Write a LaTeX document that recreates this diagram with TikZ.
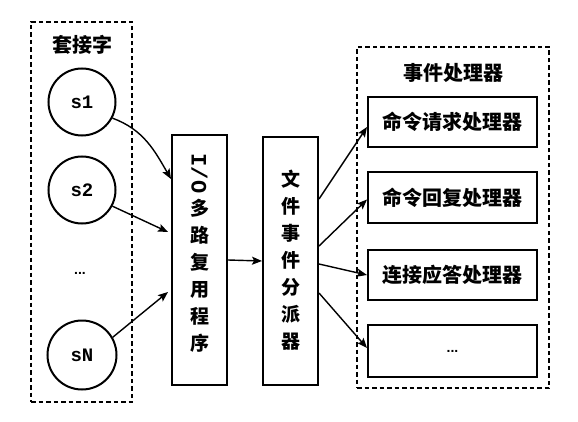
\documentclass[tikz,border=0pt]{standalone}
\usepackage{fontspec}
\usepackage{graphicx}
\newfontfamily\cjk{Noto Sans CJK SC}
\newfontfamily\mono{Liberation Mono}
\newfontfamily\dotsf{Liberation Sans}
\usetikzlibrary{arrows.meta,calc}
\begin{document}
\begin{tikzpicture}[x=1pt,y=-1pt,
  dbox/.style={draw,line width=2.1pt,dash pattern=on 4.5pt off 3pt,rectangle,inner sep=0pt},
  sock/.style={draw,circle,line width=2pt,minimum size=67pt,inner sep=0pt,font=\mono\bfseries\fontsize{19}{19}\selectfont},
  sbox/.style={draw,line width=2pt,rectangle,inner sep=0pt},
  lbl/.style={font=\cjk\bfseries\fontsize{20}{20}\selectfont},
  vlbl/.style={font=\cjk\bfseries\fontsize{19}{27}\selectfont,align=center},
  dotl/.style={font=\dotsf\bfseries\fontsize{14}{14}\selectfont},
  arr/.style={-{Stealth[length=10pt,width=8pt,inset=2pt]},line width=1.4pt}]
\useasboundingbox (0,0) rectangle (578,422);
% left group
\node[dbox,minimum width=101pt,minimum height=380pt] (left) at (81.5,212) {};
\node[lbl] (ltitle) at (82,45) {套接字};
\node[sock] (s1) at (82,102) {s1};
\node[sock] (s2) at (82,190) {s2};
\node[dotl] (sdots) at (80,273) {...};
\node[sock,minimum size=69pt] (sN) at (82,355) {sN};
% multiplexer
\node[sbox,minimum width=55pt,minimum height=250pt] (io) at (199.5,260) {};
\node[font=\mono\bfseries\fontsize{22}{22}\selectfont,rotate=-90] (iolbl) at (199.5,173.5) {I/O};
\node[vlbl] (iotext) at (199.5,275.5) {多\\路\\复\\用\\程\\序};
% dispatcher
\node[sbox,minimum width=55pt,minimum height=248pt] (disp) at (290.5,261) {};
\node[vlbl] (disptext) at (290.5,260) {文\\件\\事\\件\\分\\派\\器};
% right group
\node[dbox,minimum width=192pt,minimum height=341pt] (right) at (453,217.5) {};
\node[lbl] (rtitle) at (453,73) {事件处理器};
\node[sbox,minimum width=169pt,minimum height=50pt,lbl] (h1) at (452.5,122) {命令请求处理器};
\node[sbox,minimum width=169pt,minimum height=50pt,lbl] (h2) at (452.5,197.5) {命令回复处理器};
\node[sbox,minimum width=169pt,minimum height=50pt,lbl] (h3) at (452.5,275) {连接应答处理器};
\node[sbox,minimum width=169pt,minimum height=52pt,dotl] (h4) at (452.5,351) {...};
% connector end points
\coordinate (e1) at ($(io.north west)+(0,45)$);
\coordinate (e2) at ($(io.north west)+(-3,98)$);
\coordinate (e3) at ($(io.north west)+(-3,158)$);
\coordinate (d1) at ($(disp.north east)+(0,63)$);
\coordinate (d2) at ($(disp.north east)+(0,110)$);
\coordinate (d3) at ($(disp.north east)+(0,128)$);
\coordinate (d4) at ($(disp.north east)+(0,157)$);
% connectors
\draw[arr] (s1.-28) to[out=-20,in=120] (e1);
\draw[arr] (s2.-28) -- (e2);
\draw[arr] (sN.30) -- (e3);
\draw[arr] (io.east) -- (disp.west);
\draw[arr] (d1) -- ($(h1.west)+(0,5)$);
\draw[arr] (d2) -- ($(h2.west)+(0,2)$);
\draw[arr] (d3) -- (h3.west);
\draw[arr] (d4) -- ($(h4.west)+(0,-3)$);
\end{tikzpicture}
\end{document}
